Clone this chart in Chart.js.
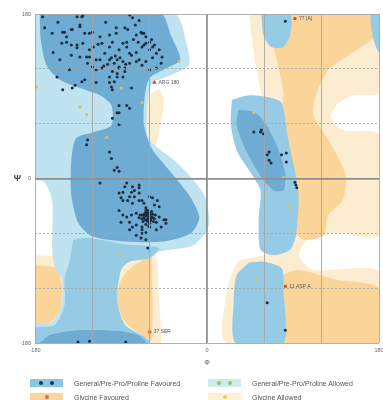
<!DOCTYPE html>
<html><head><meta charset="utf-8">
<script src="https://cdn.jsdelivr.net/npm/chart.js@4/dist/chart.umd.min.js"></script>
<style>
html,body{margin:0;padding:0;background:#fff;width:383px;height:400px;overflow:hidden;font-family:"Liberation Sans",Arial,sans-serif}
#c{position:absolute;left:0;top:0}
#legend{position:absolute;left:0;top:0;width:383px;height:400px;pointer-events:none}
.item{position:absolute;display:flex;align-items:center;height:10px;font-size:7px;color:#555;white-space:nowrap}
.sw{position:relative;width:33px;height:8px;margin-right:11px}
.dot{position:absolute;top:2px;width:4px;height:4px;border-radius:50%}
</style></head><body>
<canvas id="c" width="383" height="372"></canvas>
<div id="legend"></div>
<script>
// ---------- data (phi, psi in degrees) ----------
const tickValues = [-180, 0, 180];
const tickLabels = ['-180', '0', '180'];

// Glycine allowed contours
const glyAllowedRegions = [
  [[44,180],[180,180],[180,94],[153,91],[135,80],[130,66],[142,53],[180,48],[180,-62],[137,-60],[106,-67],[96,-84],[111,-100],[180,-102],[180,-180],[21,-180],[21,-122],[33,-91],[59,-84],[80,-73],[85,-24],[75,53],[59,86],[50,130]],
  [[-180,-84],[-156,-87],[-146,-106],[-144,-133],[-149,-155],[-164,-168],[-180,-171]],
  [[-55,-78],[-81,-87],[-98,-106],[-100,-133],[-94,-160],[-76,-175],[-55,-180],[-48,-180],[-50,-133],[-52,-91]],
  [[-62,91],[-50,97],[-45,86],[-50,53],[-55,31],[-60,37],[-63,64]]
];
// Glycine favoured contours
const glyFavouredRegions = [
  [[77,180],[174,180],[177,157],[148,135],[127,119],[114,91],[111,70],[127,42],[145,4],[142,-24],[127,-40],[122,-62],[101,-67],[87,-51],[85,-24],[77,4],[75,53],[80,91],[73,130],[67,163]],
  [[78,-106],[96,-100],[137,-111],[180,-120],[180,-180],[78,-180]],
  [[-58,-84],[-76,-95],[-90,-111],[-94,-133],[-86,-157],[-71,-169],[-58,-177]],
  [[-180,-95],[-159,-98],[-152,-117],[-154,-144],[-164,-157],[-180,-160]]
];
// General/Pre-Pro/Proline allowed contours
const genAllowedRegions = [
  [[-180,180],[-34,180],[-21,146],[-19,124],[-38,113],[-58,103],[-63,64],[-60,42],[-29,15],[-3,-18],[2,-51],[-14,-73],[-50,-80],[-60,-87],[-81,-91],[-90,-100],[-94,-133],[-86,-160],[-66,-173],[-60,-180],[-180,-180],[-180,-160],[-162,-157],[-152,-138],[-152,-111],[-159,-98],[-162,-78],[-162,-24],[-170,-4],[-180,0]]
];
// General/Pre-Pro/Proline favoured contours
const genFavouredRegions = [
  [[-140,-67],[-123,-65],[-86,-72],[-50,-76],[-60,-87],[-81,-91],[-90,-100],[-94,-133],[-86,-160],[-66,-173],[-60,-180],[-180,-180],[-180,-164],[-159,-160],[-149,-138],[-149,-109],[-144,-91]],
  [[26,86],[44,91],[64,89],[78,83],[85,42],[94,-2],[96,-24],[93,-62],[87,-78],[70,-84],[56,-78],[54,-45],[56,-13],[44,9],[31,31],[25,59]],
  [[44,-92],[59,-91],[78,-98],[80,-122],[80,-180],[30,-180],[28,-133],[31,-106]],
  [[57,180],[87,180],[87,157],[80,144],[67,144],[59,157]],
  [[171,180],[180,180],[180,138],[176,146],[172,163]]
];
// Favoured cores
const genFavouredCores = [
  [[-175,180],[-48,180],[-38,157],[-28,130],[-42,121],[-60,110],[-65,91],[-66,59],[-58,33],[-38,7],[-17,-21],[-8,-43],[-17,-60],[-45,-69],[-86,-69],[-121,-63],[-135,-48],[-142,-18],[-142,20],[-137,44],[-118,51],[-100,58],[-100,80],[-112,91],[-133,99],[-154,108],[-168,124],[-174,152]],
  [[-175,-180],[-164,-171],[-133,-166],[-92,-167],[-71,-172],[-64,-180]],
  [[33,75],[49,73],[62,59],[75,31],[82,4],[80,-13],[70,-13],[59,-2],[49,15],[38,37],[31,59]]
];

// Residues
const betaPoints = [[-172,177],[-136,177],[-130,178],[-81,179],[-78,176],[-133,166],[-162,159],[-151,160],[-147,155],[-141,163],[-128,159],[-120,160],[-130,148],[-152,148],[-102,157],[-95,159],[-86,165],[-74,157],[-68,159],[-64,155],[-58,152],[-84,149],[-99,149],[-110,148],[-88,148],[-81,137],[-74,138],[-68,144],[-60,141],[-53,137],[-47,133],[-92,141],[-102,144],[-107,137],[-123,141],[-136,143],[-142,146],[-161,138],[-133,133],[-123,133],[-116,130],[-125,126],[-120,122],[-116,119],[-110,121],[-102,130],[-97,126],[-92,121],[-86,121],[-81,126],[-74,128],[-68,124],[-60,119],[-53,121],[-99,117],[-102,111],[-94,115],[-88,111],[-157,111],[-151,97],[-141,99],[-131,106],[-116,105],[-100,100],[-99,97],[-92,80],[-92,72],[-81,77],[-131,177],[-133,168],[-149,160],[-142,163],[-123,159],[-95,165],[-69,160],[-66,159],[-64,148],[-57,144],[-50,141],[-84,144],[-79,135],[-71,130],[-64,128],[-57,132],[-48,126],[-92,122],[-86,117],[-94,111],[-97,106],[-112,130],[-126,133],[-142,135],[-136,146],[-147,149],[-138,102],[-128,108],[-102,105],[-84,80],[-94,72],[-92,59],[-99,66],[-125,42],[-126,37],[-96,134],[-94,130],[-91,132],[-88,128],[-85,125],[-100,132],[-104,125],[-108,123],[-119,144],[-114,147],[-72,149],[-77,152],[-66,146],[-60,149],[-55,146],[-112,155],[-83,163],[-75,168],[-71,173],[-154,130],[-170,165],[-156,171],[-106,171],[-144,119],[-79,99]];
const alphaPoints = [[-112,-5],[-102,29],[-97,9],[-92,8],[-84,-5],[-78,-9],[-88,-15],[-79,-15],[-71,-10],[-90,-21],[-83,-24],[-76,-20],[-71,-24],[-66,-27],[-57,-21],[-55,-29],[-52,-24],[-64,-32],[-60,-38],[-68,-40],[-62,-45],[-57,-43],[-71,-43],[-74,-38],[-79,-40],[-81,-48],[-74,-51],[-68,-53],[-60,-53],[-53,-48],[-50,-42],[-43,-45],[-48,-53],[-64,-59],[-68,-56],[-81,-56],[-88,-40],[-90,-48],[-69,-65],[-64,-67],[-74,-62],[-100,22],[-94,12],[-86,-9],[-76,-13],[-71,-7],[-92,-16],[-88,-24],[-81,-20],[-78,-27],[-71,-16],[-68,-24],[-60,-20],[-50,-31],[-43,-49],[-53,-56],[-68,-60],[-78,-53],[-84,-42],[-92,-35],[-62,-76],[-45,-45],[-60,-40],[-62,-44],[-64,-41],[-58,-42],[-61,-38],[-63,-46],[-66,-43],[-59,-46],[-57,-39],[-65,-38],[-62,-35],[-60,-49],[-67,-47],[-55,-44],[-64,-50],[-61,-42],[-63,-40],[-59,-44],[-62,-47],[-66,-40],[-68,-44],[-56,-47],[-58,-36],[-64,-35],[-61,-52],[-70,-40],[-54,-40],[-65,-45],[-60,-43],[-63,-37]];
const leftHelixPoints = [[49,51],[56,51],[59,49],[57,53],[65,29],[63,26],[65,20],[67,17],[78,26],[83,28],[83,18],[93,-7],[94,-10],[92,-4]];
const otherPoints = [[-135,-179],[-123,-178],[-85,-179],[63,-136],[82,-166],[82,172]];
const allowedPoints = [[-90,99],[-133,78],[-126,70],[-105,45],[-68,83],[-29,128],[-178,100],[-92,-84],[49,72],[61,-20],[80,1],[52,-111],[85,-31]];
const outlierPoints = [[-55,105],[92,175],[-60,-168],[82,-118]];
const outlierNames = ['ARG 180', '77 (A)', '37 SER', '11 ASP A'];

// Legend
const legendNames = ['General/Pre-Pro/Proline Favoured', 'General/Pre-Pro/Proline Allowed', 'Glycine Favoured', 'Glycine Allowed'];
const legendSwatchColors = ['rgb(138,198,230)', 'rgb(206,236,234)', 'rgb(250,213,158)', 'rgb(254,240,214)'];
const legendDotColors = ['#1e3550', 'rgb(140,200,110)', 'rgb(205,120,45)', 'rgb(228,205,90)'];
const legendDotCounts = [2, 2, 1, 1];

// ---------- chart ----------
Chart.defaults.font.family = '"Liberation Sans", Arial, sans-serif';
const toXY = arr => arr.map(([x, y]) => ({x, y}));
const regionSets = [];
function addRegions(list, color, order, label) {
  list.forEach(poly => {
    const closed = poly.concat([poly[0]]);
    regionSets.push({
      label, data: toXY(closed), showLine: true, fill: 'shape',
      backgroundColor: color, borderColor: 'rgba(0,0,0,0)', borderWidth: 0,
      pointRadius: 0, pointHoverRadius: 0, tension: 0.25, order
    });
  });
}
addRegions(glyAllowedRegions, 'rgb(253,237,208)', 10, 'Glycine Allowed');
addRegions(glyFavouredRegions, 'rgb(250,212,152)', 9, 'Glycine Favoured');
addRegions(genAllowedRegions, 'rgb(192,227,241)', 8, 'General/Pre-Pro/Proline Allowed');
addRegions(genFavouredRegions, 'rgb(150,203,230)', 7, 'General/Pre-Pro/Proline Favoured');
addRegions(genFavouredCores, 'rgb(110,172,211)', 6, 'General/Pre-Pro/Proline Favoured');

const pointSet = (label, pts, color, r, order) => ({
  label, data: toXY(pts), showLine: false, pointRadius: r, pointHoverRadius: r,
  pointBackgroundColor: color, pointBorderWidth: 0, borderColor: color, order
});

const datasets = regionSets.concat([
  pointSet('Favoured residues', betaPoints.concat(alphaPoints, leftHelixPoints, otherPoints), '#1c2c40', 1.5, 2),
  pointSet('Allowed residues', allowedPoints, 'rgb(212,196,104)', 1.6, 1),
  {
    label: 'Outliers', id: 'outliers', data: toXY(outlierPoints), showLine: false,
    pointRadius: [2.6, 2, 2, 2], pointStyle: ['triangle', 'rect', 'rect', 'rect'],
    pointBackgroundColor: '#d8432d', pointBorderWidth: 0, borderColor: '#d8432d', order: 0
  }
]);

const labelPlugin = {
  id: 'outlierLabels',
  afterDatasetsDraw(chart) {
    const i = chart.data.datasets.findIndex(d => d.id === 'outliers');
    const meta = chart.getDatasetMeta(i);
    const ctx = chart.ctx;
    ctx.save();
    ctx.font = '5px "Liberation Sans", Arial, sans-serif';
    ctx.fillStyle = '#555';
    ctx.textBaseline = 'middle';
    meta.data.forEach((pt, k) => ctx.fillText(outlierNames[k], pt.x + 4, pt.y));
    ctx.restore();
  }
};

const tickCb = v => { const k = tickValues.indexOf(v); return k >= 0 ? tickLabels[k] : ''; };
const gridColor = ctx => ctx.tick && ctx.tick.value === 0 ? '#8e8e8e' : '#a6a6a6';
const gridWidth = ctx => ctx.tick && ctx.tick.value === 0 ? 1.8 : 0.9;

new Chart(document.getElementById('c'), {
  type: 'scatter',
  data: { datasets },
  plugins: [labelPlugin],
  options: {
    responsive: false, animation: false, events: [],
    layout: { padding: { top: 14, right: 2, left: 0, bottom: 0 } },
    plugins: { legend: { display: false }, tooltip: { enabled: false } },
    scales: {
      x: {
        type: 'linear', min: -180, max: 180, position: 'bottom',
        ticks: { stepSize: 60, autoSkip: false, maxRotation: 0, padding: 4, color: '#666', font: { size: 5.5 }, callback: tickCb },
        grid: { z: 1, drawTicks: false, color: gridColor, lineWidth: gridWidth },
        border: { display: false },
        title: { display: true, text: 'Φ', color: '#555', font: { size: 7 }, padding: { top: 0, bottom: 5 } },
        afterFit: s => { s.height = 29; s.paddingLeft = 0; s.paddingRight = 0; }
      },
      y: {
        type: 'linear', min: -180, max: 180, position: 'left', weight: 0,
        ticks: { stepSize: 60, autoSkip: false, padding: 4, color: '#666', font: { size: 5.5 }, callback: tickCb },
        grid: { z: 1, drawTicks: false, color: gridColor, lineWidth: gridWidth },
        border: { display: false, dash: ctx => (ctx.tick && Math.abs(ctx.tick.value) % 180 !== 0) ? [2, 2] : [] },
        afterFit: s => { s.width = 14; s.paddingTop = 0; s.paddingBottom = 0; }
      },
      yTitle: {
        type: 'linear', min: -180, max: 180, position: 'left', weight: 1,
        grid: { display: false, drawTicks: false }, border: { display: false },
        afterBuildTicks: s => { s.ticks = [{ value: 0 }]; },
        ticks: { padding: 0, color: '#444', font: { size: 9, weight: 'bold' }, callback: () => 'Ψ' },
        afterFit: s => { s.width = 21; s.paddingTop = 0; s.paddingBottom = 0; }
      }
    }
  }
});

// HTML legend
const legendEl = document.getElementById('legend');
legendNames.forEach((name, i) => {
  const col = i % 2, row = Math.floor(i / 2);
  const item = document.createElement('div');
  item.className = 'item';
  item.style.left = (col ? 208 : 30) + 'px';
  item.style.top = (378 + row * 14) + 'px';
  const sw = document.createElement('div');
  sw.className = 'sw';
  sw.style.background = legendSwatchColors[i];
  const n = legendDotCounts[i];
  for (let d = 0; d < n; d++) {
    const dot = document.createElement('div');
    dot.className = 'dot';
    dot.style.background = legendDotColors[i];
    dot.style.left = (n === 1 ? 14.5 : 9 + d * 11) + 'px';
    sw.appendChild(dot);
  }
  const tx = document.createElement('span');
  tx.textContent = name;
  item.appendChild(sw);
  item.appendChild(tx);
  legendEl.appendChild(item);
});
</script>
</body></html>
